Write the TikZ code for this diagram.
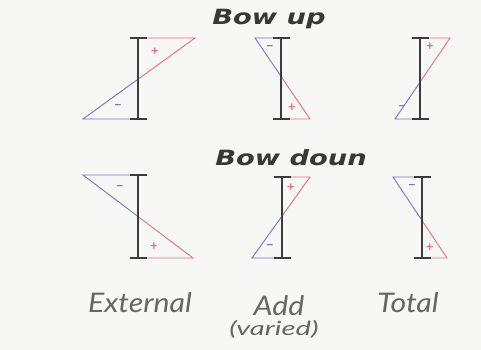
\documentclass[tikz,border=0pt]{standalone}
\usepackage{fontspec}
\setmainfont{Lato}
\newfontfamily\ttlfont{DejaVu Sans}
\definecolor{rd}{RGB}{226,112,124}
\definecolor{bl}{RGB}{118,116,196}
\definecolor{bm}{RGB}{60,60,62}
\definecolor{bg}{RGB}{247,247,245}
\begin{document}
\begin{tikzpicture}[x=1pt,y=-1pt,
  redl/.style={draw=rd, line width=0.9pt},
  bluel/.style={draw=bl, line width=0.9pt},
  beam/.style={draw=bm, line width=2.6pt},
  sgnr/.style={text=rd, font=\fontsize{13}{13}\selectfont\bfseries, inner sep=0pt},
  sgnb/.style={text=bl, font=\fontsize{13}{13}\selectfont\bfseries, inner sep=0pt},
  ttl/.style={font=\ttlfont\fontsize{21}{21}\selectfont\bfseries\itshape, text=black!78, inner sep=0pt, xscale=1.3, anchor=base},
  lbl/.style={font=\fontsize{27}{27}\selectfont\itshape, text=black!60, inner sep=0pt, anchor=base, xscale=1.12},
  lbls/.style={font=\fontsize{19.5}{19.5}\selectfont\itshape, text=black!60, inner sep=0pt, anchor=base, xscale=1.5}]
\fill[bg] (0,0) rectangle (481,350);
\useasboundingbox (0,0) rectangle (481,350);
\newcommand{\mybeam}[3]{%
  \draw[beam] (#1,#2) -- (#1,#3);
  \draw[beam] (#1-8.5,#2) -- (#1+8.5,#2);
  \draw[beam] (#1-8.5,#3) -- (#1+8.5,#3);}
% ---------- Bow up ----------
\node[ttl] (t1) at (269,25) {Bow up};
% External
\draw[redl] (138,38) -- (195,38) -- (138,79.2);
\draw[bluel] (138,79.2) -- (83,119) -- (138,119);
\mybeam{138}{38}{119}
\node[sgnr] (p1) at (155,52) {+};
\node[sgnb] (m1) at (118,107) {\textminus};
% Add
\draw[bluel] (281,38) -- (255,38) -- (281,76.3);
\draw[redl] (281,76.3) -- (310,119) -- (281,119);
\mybeam{281}{38}{119}
\node[sgnb] (m2) at (270,48) {\textminus};
\node[sgnr] (p2) at (292,108) {+};
% Total
\draw[redl] (420,38) -- (450,38) -- (420,82.2);
\draw[bluel] (420,82.2) -- (395,119) -- (420,119);
\mybeam{420}{38}{119}
\node[sgnr] (p3) at (430,47) {+};
\node[sgnb] (m3) at (402,108) {\textminus};
% ---------- Bow down ----------
\node[ttl] (t2) at (291,165) {Bow doun};
% External
\draw[bluel] (138,175) -- (83,175) -- (138,216.5);
\draw[redl] (138,216.5) -- (193,258) -- (138,258);
\mybeam{138}{175}{258}
\node[sgnb] (m4) at (120,188) {\textminus};
\node[sgnr] (p4) at (154,247) {+};
% Add
\draw[redl] (282,177) -- (310,177) -- (282,216.1);
\draw[bluel] (282,216.1) -- (252,258) -- (282,258);
\mybeam{282}{177}{258}
\node[sgnr] (p5) at (291,188) {+};
\node[sgnb] (m5) at (270,247) {\textminus};
% Total
\draw[bluel] (422,177) -- (393,177) -- (422,220.5);
\draw[redl] (422,220.5) -- (447,258) -- (422,258);
\mybeam{422}{177}{258}
\node[sgnb] (m6) at (412,187) {\textminus};
\node[sgnr] (p6) at (430,248) {+};
% ---------- Labels ----------
\node[lbl] (l1) at (140,312) {External};
\node[lbl] (l2) at (279,315) {Add};
\node[lbls] (l3) at (274,335) {(varied)};
\node[lbl] (l4) at (408,312) {Total};
\end{tikzpicture}
\end{document}
